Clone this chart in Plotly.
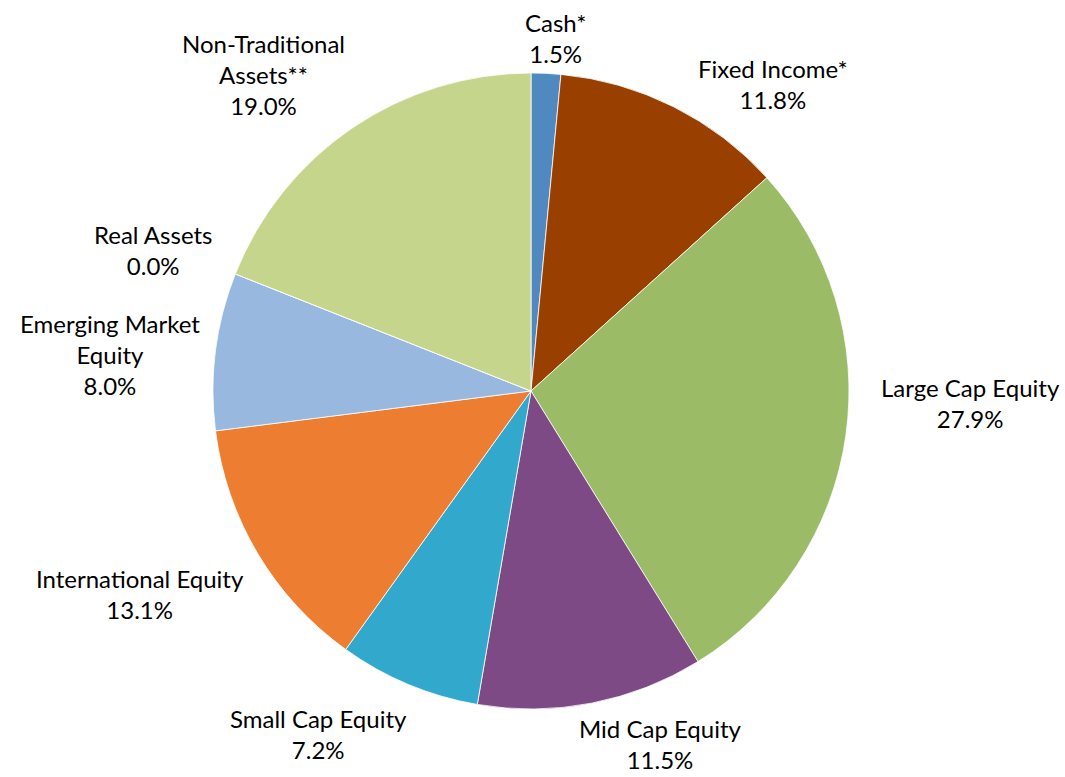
import math
import plotly.graph_objects as go

# ---- data ----
labels = ["Cash*", "Fixed Income*", "Large Cap Equity", "Mid Cap Equity",
          "Small Cap Equity", "International Equity", "Emerging Market Equity",
          "Real Assets", "Non-Traditional Assets**"]
label_text = ["Cash*", "Fixed Income*", "Large Cap Equity", "Mid Cap Equity",
              "Small Cap Equity", "International Equity", "Emerging Market<br>Equity",
              "Real Assets", "Non-Traditional<br>Assets**"]
values = [1.5, 11.8, 27.9, 11.5, 7.2, 13.1, 8.0, 0.0, 19.0]
colors = ["#4F89C0", "#993F00", "#9BBB67", "#7E4A85", "#33A8CD",
          "#ED7D31", "#98B8DF", "#B9CDE5", "#C5D58C"]

# label placement styling (angle nudge in degrees, radius factor vs pie radius)
label_nudge = [1.35, 11.6, -6.5, -9.1, 9.1, 3.4, -2.3, -1.1, -6.1]
label_rad = [1.113, 1.229, 1.384, 1.182, 1.270, 1.386, 1.329, 1.269, 1.303]

W, H = 1065, 777
cx, cy, R = 531, 391, 318
dom_x = [(cx - R) / W, (cx + R) / W]
dom_y = [(H - (cy + R)) / H, (H - (cy - R)) / H]

fig = go.Figure(go.Pie(
    labels=labels, values=values, sort=False, direction="clockwise",
    rotation=0, textinfo="none", hoverinfo="label+percent",
    marker=dict(colors=colors, line=dict(color="white", width=0.8)),
    domain=dict(x=dom_x, y=dom_y), showlegend=False,
))

total = sum(values)
cum = 0.0
annotations = []
for i, v in enumerate(values):
    mid = (cum + v / 2) / total * 360.0
    cum += v
    ang = math.radians(mid + label_nudge[i])
    r = R * label_rad[i]
    px = cx + r * math.sin(ang)
    py = cy - r * math.cos(ang)
    pct = v / total * 100
    annotations.append(dict(
        x=px / W, y=1 - py / H, xref="paper", yref="paper",
        text=f"{label_text[i]}<br>{pct:.1f}%", showarrow=False,
        xanchor="center", yanchor="middle", align="center", borderpad=0,
        font=dict(family="Lato", size=24, color="#000000"),
    ))

fig.update_layout(
    width=W, height=H, margin=dict(l=0, r=0, t=0, b=0),
    paper_bgcolor="white", plot_bgcolor="white",
    annotations=annotations,
)
fig.write_html("out.html", config={"displayModeBar": False})

# remove default page margin so the figure sits at the window's corner
with open("out.html", "r", encoding="utf-8") as f:
    html = f.read()
html = html.replace("<head>", "<head><style>html,body{margin:0;padding:0;overflow:hidden;}</style>", 1)
with open("out.html", "w", encoding="utf-8") as f:
    f.write(html)
